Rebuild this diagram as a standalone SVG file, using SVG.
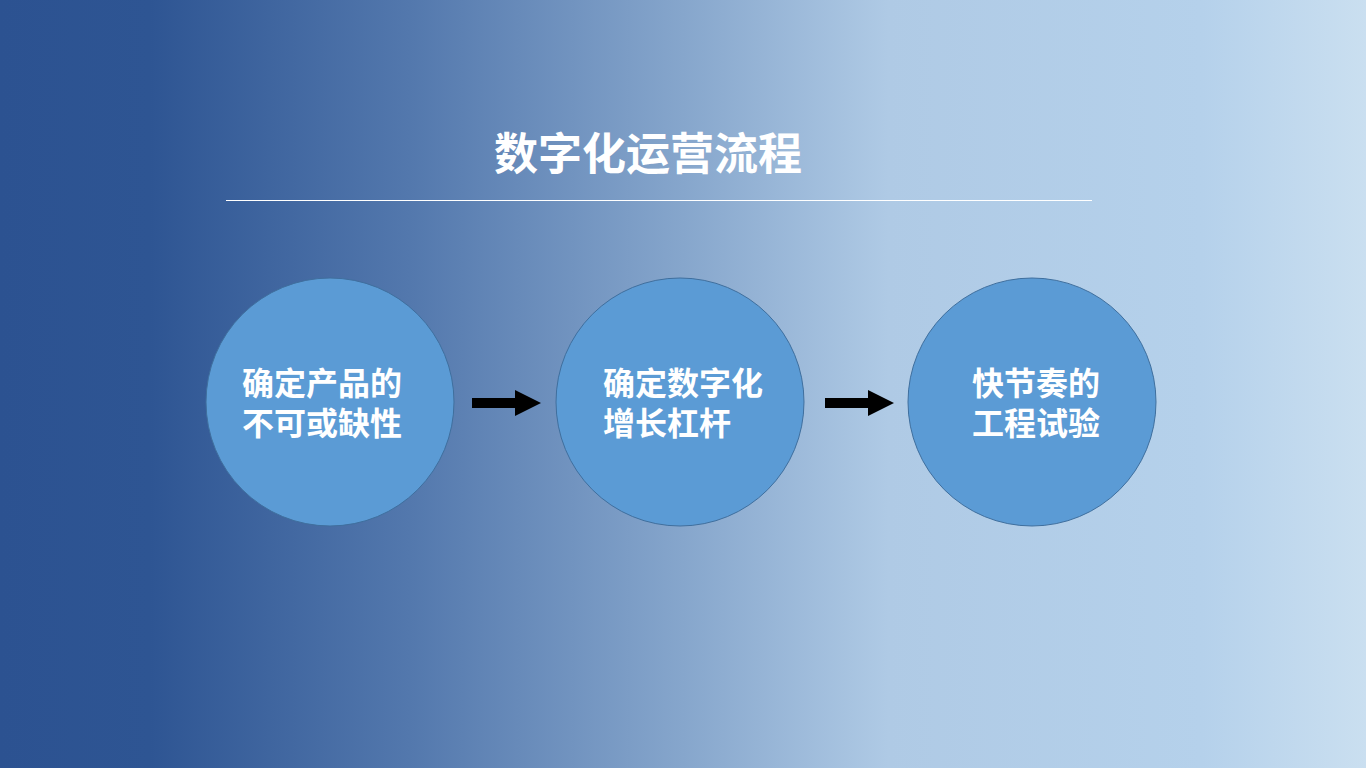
<svg xmlns="http://www.w3.org/2000/svg" width="1366" height="768" viewBox="0 0 1366 768">
<defs>
<linearGradient id="bg" x1="0" y1="0" x2="1" y2="0">
<stop offset="0" stop-color="#2c5291"/>
<stop offset="0.11" stop-color="#2e5593"/>
<stop offset="0.3" stop-color="#5378ad"/>
<stop offset="0.5" stop-color="#86a6cc"/>
<stop offset="0.65" stop-color="#afcae5"/>
<stop offset="0.88" stop-color="#b5d1eb"/>
<stop offset="1" stop-color="#cadff0"/>
</linearGradient>
<style>
.c{fill:#5b9bd5;stroke:#3f6f9e;stroke-width:1}
.t{font-family:"Liberation Sans","Noto Sans CJK SC",sans-serif;font-weight:bold;fill:#fff;font-size:32px}
.a{fill:#000}
</style>
</defs>
<rect width="1366" height="768" fill="url(#bg)"/>
<text class="t" x="648" y="170" text-anchor="middle" style="font-size:44px">数字化运营流程</text>
<line x1="226" y1="200.5" x2="1092" y2="200.5" stroke="#fff" stroke-width="1"/>
<g id="n1"><circle class="c" cx="330" cy="402" r="124"/><text class="t" x="242" y="395">确定产品的</text><text class="t" x="242" y="435">不可或缺性</text></g>
<g id="n2"><circle class="c" cx="680" cy="402" r="124"/><text class="t" x="603" y="395">确定数字化</text><text class="t" x="603" y="435">增长杠杆</text></g>
<g id="n3"><circle class="c" cx="1032" cy="402" r="124"/><text class="t" x="972" y="395">快节奏的</text><text class="t" x="972" y="435">工程试验</text></g>
<g id="connectors">
<polygon class="a" points="472,398 515,398 515,390 541,403 515,416 515,408 472,408"/>
<polygon class="a" points="825,398 868,398 868,390 894,403 868,416 868,408 825,408"/>
</g>
</svg>
